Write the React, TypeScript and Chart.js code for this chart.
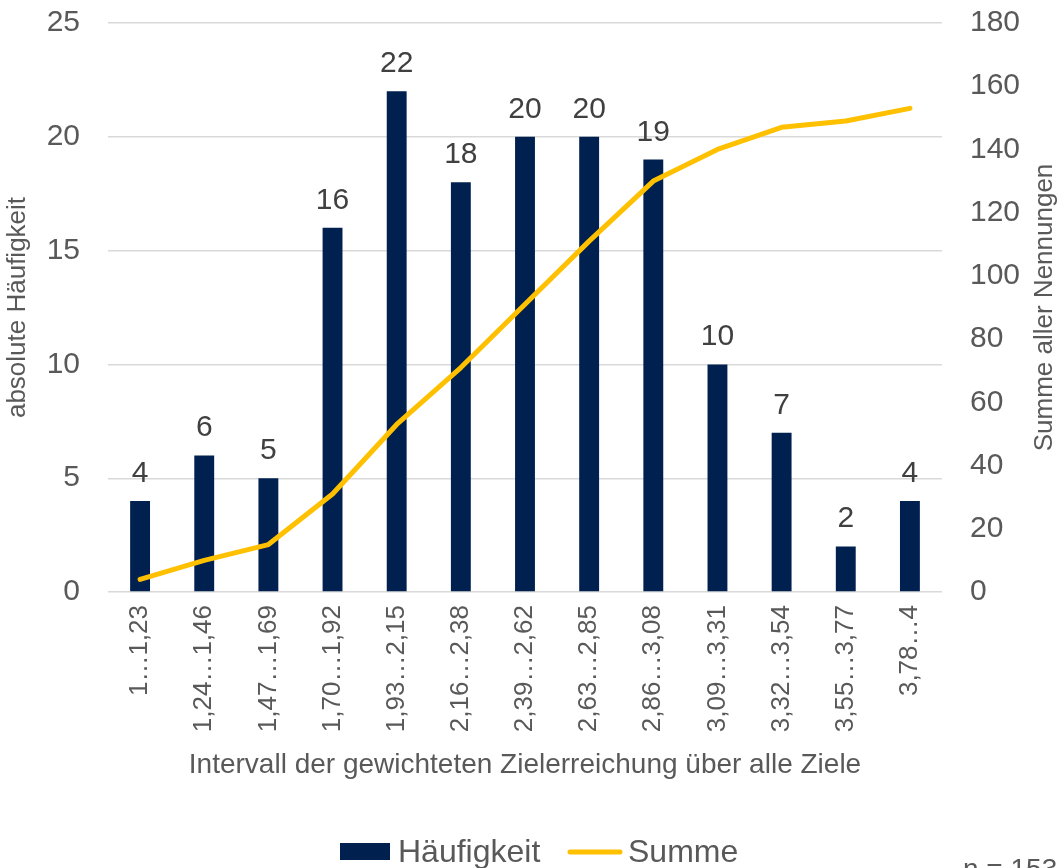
import React, { useEffect, useRef } from "react";
import { Chart, registerables } from "chart.js";

Chart.register(...registerables);

const categories = [
  "1…1,23",
  "1,24…1,46",
  "1,47…1,69",
  "1,70…1,92",
  "1,93…2,15",
  "2,16…2,38",
  "2,39…2,62",
  "2,63…2,85",
  "2,86…3,08",
  "3,09…3,31",
  "3,32…3,54",
  "3,55…3,77",
  "3,78…4",
];
const haeufigkeit = [4, 6, 5, 16, 22, 18, 20, 20, 19, 10, 7, 2, 4];
const summe = [4, 10, 15, 31, 53, 71, 91, 111, 130, 140, 147, 149, 153];

const leftMax = 25;
const leftStep = 5;
const rightMax = 180;
const rightStep = 20;

const xTitle = "Intervall der gewichteten Zielerreichung über alle Ziele";
const leftTitle = "absolute Häufigkeit";
const rightTitle = "Summe aller Nennungen";
const noteText = "n = 153";

const FONT = "'Liberation Sans', Arial, sans-serif";
const TEXT = "#595959";
const LABEL = "#404040";
const NAVY = "#00214F";
const GOLD = "#FFC000";

const extrasPlugin = {
  id: "extras",
  afterDatasetsDraw(chart: any) {
    const ctx = chart.ctx;
    const meta = chart.getDatasetMeta(0);
    ctx.save();
    ctx.font = `30px ${FONT}`;
    ctx.fillStyle = LABEL;
    ctx.textAlign = "center";
    ctx.textBaseline = "alphabetic";
    meta.data.forEach((el: any, i: number) => {
      ctx.fillText(String(haeufigkeit[i]), el.x, el.y - 19);
    });
    ctx.restore();
  },
  afterDraw(chart: any) {
    const ctx = chart.ctx;
    const area = chart.chartArea;
    ctx.save();
    ctx.font = `26px ${FONT}`;
    ctx.fillStyle = TEXT;
    ctx.textAlign = "center";
    ctx.textBaseline = "middle";
    ctx.translate(1045, (area.top + area.bottom) / 2);
    ctx.rotate(-Math.PI / 2);
    ctx.fillText(rightTitle, 0, 0);
    ctx.restore();

    ctx.save();
    ctx.fillStyle = NAVY;
    ctx.fillRect(340, 843, 50, 17);
    ctx.font = `32px ${FONT}`;
    ctx.fillStyle = TEXT;
    ctx.textAlign = "left";
    ctx.textBaseline = "alphabetic";
    ctx.fillText(chart.data.datasets[0].label, 398, 862);
    ctx.strokeStyle = GOLD;
    ctx.lineWidth = 5;
    ctx.lineCap = "round";
    ctx.beginPath();
    ctx.moveTo(570, 852);
    ctx.lineTo(620, 852);
    ctx.stroke();
    ctx.fillText(chart.data.datasets[1].label, 628, 862);

    ctx.font = `28px ${FONT}`;
    ctx.fillText(noteText, 963, 878);
    ctx.restore();
  },
};

export default function App() {
  const ref = useRef<HTMLCanvasElement | null>(null);

  useEffect(() => {
    if (!ref.current) return;
    Chart.defaults.font.family = FONT;
    Chart.defaults.color = TEXT;
    const chart = new Chart(ref.current, {
      data: {
        labels: categories,
        datasets: [
          {
            type: "bar",
            label: "Häufigkeit",
            data: haeufigkeit,
            backgroundColor: NAVY,
            yAxisID: "y",
            barPercentage: 0.31,
            categoryPercentage: 1,
            order: 2,
          },
          {
            type: "line",
            label: "Summe",
            data: summe,
            borderColor: GOLD,
            backgroundColor: GOLD,
            borderWidth: 5,
            borderCapStyle: "round",
            borderJoinStyle: "round",
            pointRadius: 0,
            tension: 0,
            yAxisID: "y1",
            order: 1,
          },
        ],
      } as any,
      options: {
        responsive: false,
        animation: false,
        devicePixelRatio: 1,
        layout: { padding: { top: 23, bottom: 78, left: 0, right: 0 } },
        plugins: {
          legend: { display: false },
          tooltip: { enabled: false },
        },
        scales: {
          x: {
            grid: { display: false, drawTicks: false },
            border: { display: false },
            ticks: {
              font: { size: 26 },
              color: TEXT,
              minRotation: 90,
              maxRotation: 90,
              autoSkip: false,
              padding: 13,
            },
            title: {
              display: true,
              text: xTitle,
              font: { size: 28 },
              color: TEXT,
              padding: { top: 0, bottom: 8 },
            },
            afterFit: (s: any) => {
              s.height = 198;
            },
          },
          y: {
            position: "left",
            min: 0,
            max: leftMax,
            ticks: { stepSize: leftStep, font: { size: 30 }, color: TEXT, padding: 28 },
            grid: { color: "#D9D9D9", lineWidth: 1.4, drawTicks: false },
            border: { display: false },
            title: {
              display: true,
              text: leftTitle,
              font: { size: 26 },
              color: TEXT,
              padding: { top: 2, bottom: 0 },
            },
            afterFit: (s: any) => {
              s.width = 108;
              s.paddingTop = 0;
              s.paddingBottom = 0;
            },
          },
          y1: {
            position: "right",
            min: 0,
            max: rightMax,
            ticks: { stepSize: rightStep, font: { size: 30 }, color: TEXT, padding: 28 },
            grid: { drawOnChartArea: false, drawTicks: false },
            border: { display: false },
            afterFit: (s: any) => {
              s.width = 119;
              s.paddingTop = 0;
              s.paddingBottom = 0;
            },
          },
        },
      } as any,
      plugins: [extrasPlugin],
    });
    return () => chart.destroy();
  }, []);

  return (
    <div style={{ position: "absolute", left: 0, top: 0, width: 1061, height: 868, background: "#fff" }}>
      <canvas ref={ref} width={1061} height={868} style={{ display: "block" }} />
    </div>
  );
}
